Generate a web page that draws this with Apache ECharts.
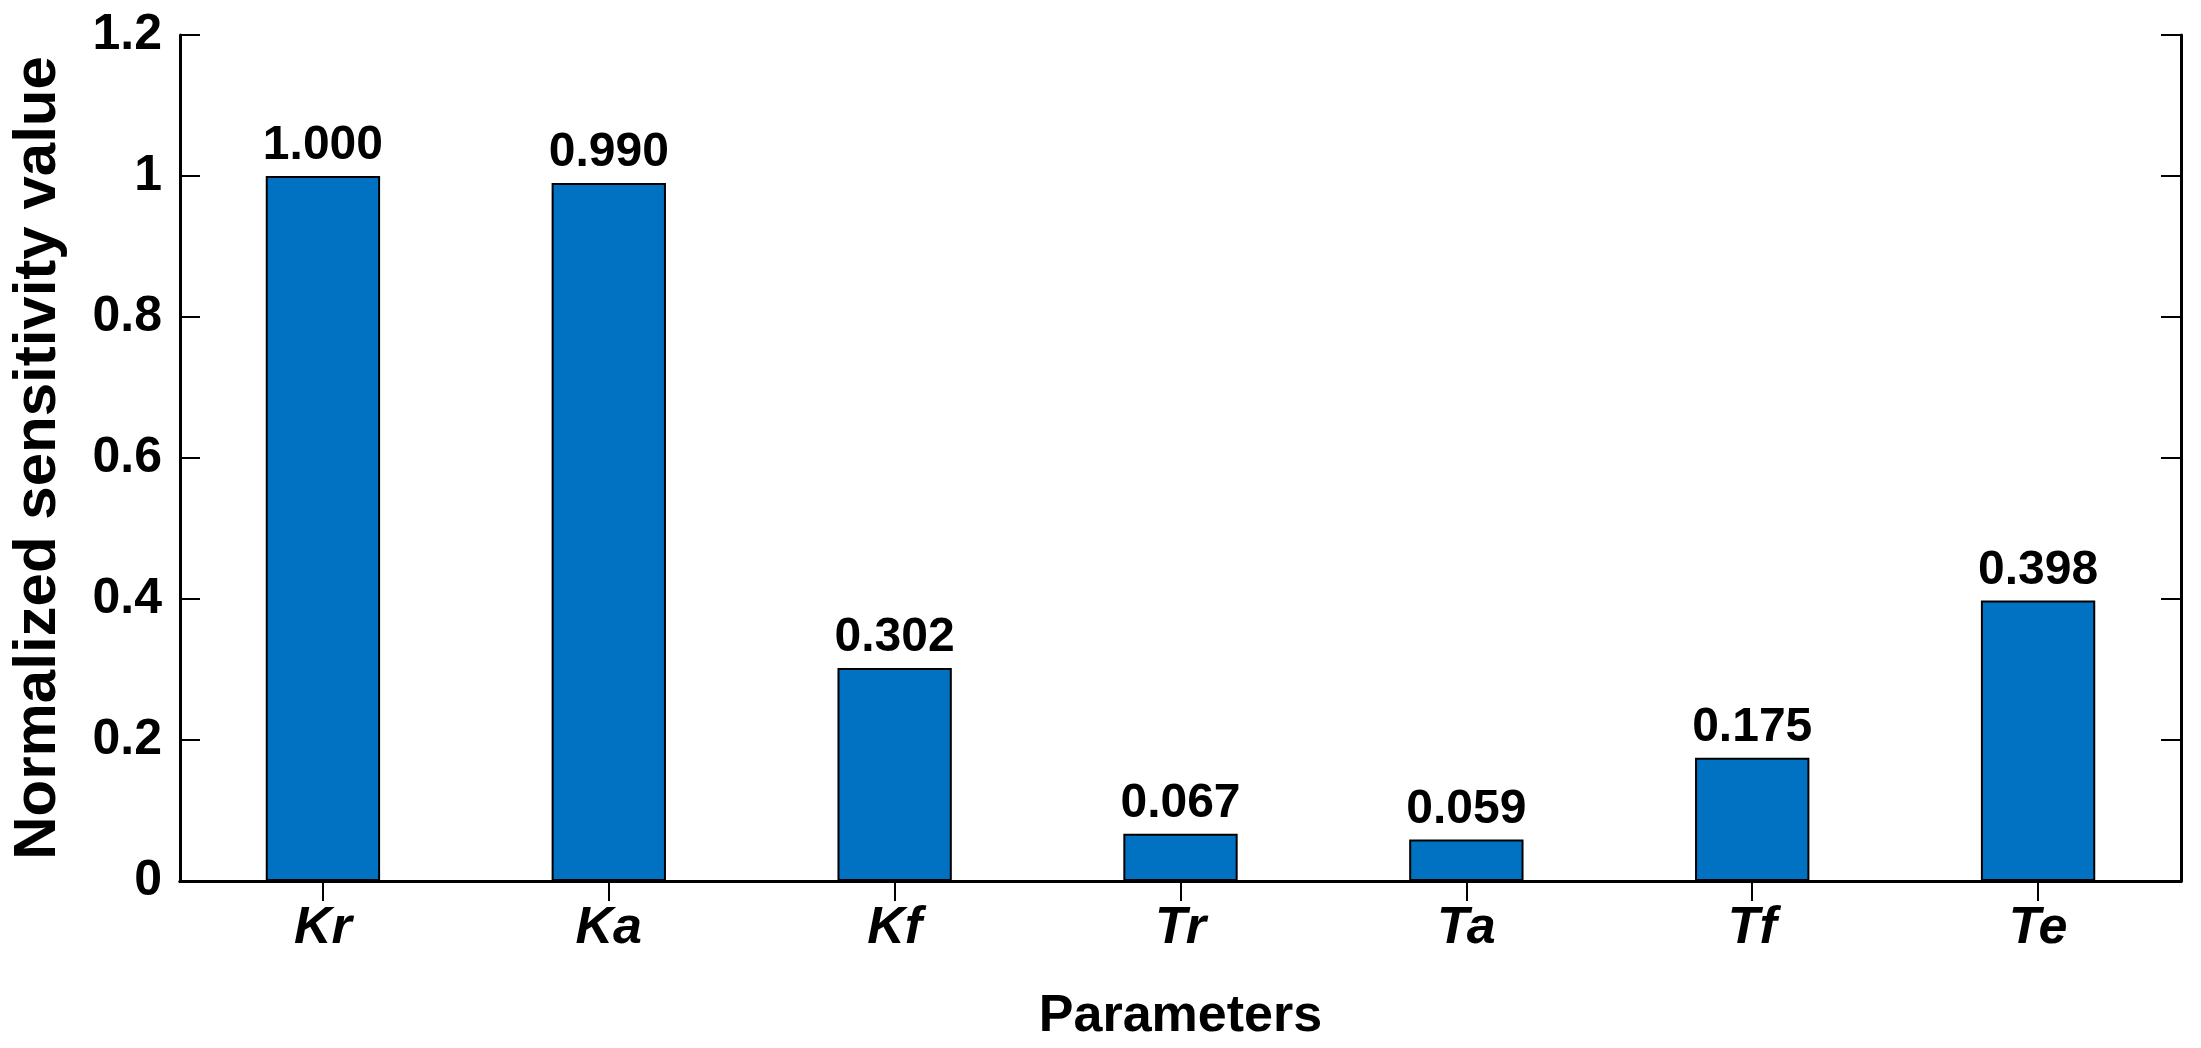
<!DOCTYPE html>
<html>
<head>
<meta charset="UTF-8">
<script src="https://cdn.jsdelivr.net/npm/echarts@6/dist/echarts.min.js"></script>
<style>
    html, body { margin: 0; background: #fff; }
    #chart { width: 2201px; height: 1048px; }
</style>
</head>
<body>
<div id="chart"></div>
<script>
    var params = ['Kr', 'Ka', 'Kf', 'Tr', 'Ta', 'Tf', 'Te'];
    var values = [1.000, 0.990, 0.302, 0.067, 0.059, 0.175, 0.398];
    var yTicks = [0, 0.2, 0.4, 0.6, 0.8, 1, 1.2];

    var font = 'Arial, "Liberation Sans", sans-serif';
    var axisLine = { show: true, lineStyle: { color: '#000', width: 3 } };
    var tick = { show: true, inside: true, length: 20, lineStyle: { color: '#000', width: 2 } };

    var chart = echarts.init(document.getElementById('chart'));
    chart.setOption({
        animation: false,
        grid: { left: 166, right: 20, top: 35, bottom: 161 },
        xAxis: [{
            type: 'category',
            data: params,
            name: 'Parameters',
            nameLocation: 'middle',
            nameGap: 110,
            nameTextStyle: { fontFamily: font, fontWeight: 'bold', fontSize: 52, color: '#000' },
            axisLine: axisLine,
            axisTick: { show: true, inside: true, alignWithLabel: true, length: 20, lineStyle: { color: '#000', width: 2 } },
            axisLabel: { fontFamily: font, fontWeight: 'bold', fontStyle: 'italic', fontSize: 52, color: '#000', margin: 22 }
        }, {
            type: 'category',
            data: params,
            position: 'top',
            axisLine: axisLine,
            axisTick: { show: true, inside: true, alignWithLabel: true, length: 20, lineStyle: { color: '#000', width: 2 } },
            axisLabel: { show: false }
        }],
        yAxis: [{
            type: 'value',
            min: 0, max: 1.2, interval: 0.2,
            name: 'Normalized sensitivity value',
            nameLocation: 'middle',
            nameGap: 112,
            nameTextStyle: { fontFamily: '"Liberation Sans Narrow", ' + font, fontWeight: 'bold', fontSize: 60, color: '#000' },
            axisLine: axisLine,
            axisTick: tick,
            splitLine: { show: false },
            axisLabel: {
                fontFamily: font, fontWeight: 'bold', fontSize: 50, color: '#000', margin: 18,
                formatter: function (v) {
                    var t = yTicks.find(function (x) { return Math.abs(x - v) < 1e-9; });
                    return t === undefined ? '' : String(t);
                }
            }
        }, {
            type: 'value',
            min: 0, max: 1.2, interval: 0.2,
            position: 'right',
            axisLine: axisLine,
            axisTick: tick,
            splitLine: { show: false },
            axisLabel: { show: false }
        }],
        series: [{
            type: 'bar',
            data: values,
            barWidth: '40%',
            itemStyle: { color: '#0072C1', borderColor: '#000', borderWidth: 2 },
            label: {
                show: true, position: 'top', distance: 6,
                fontFamily: font, fontWeight: 'bold', fontSize: 48, color: '#000',
                formatter: function (p) { return p.value.toFixed(3); }
            }
        }]
    });
</script>
</body>
</html>
